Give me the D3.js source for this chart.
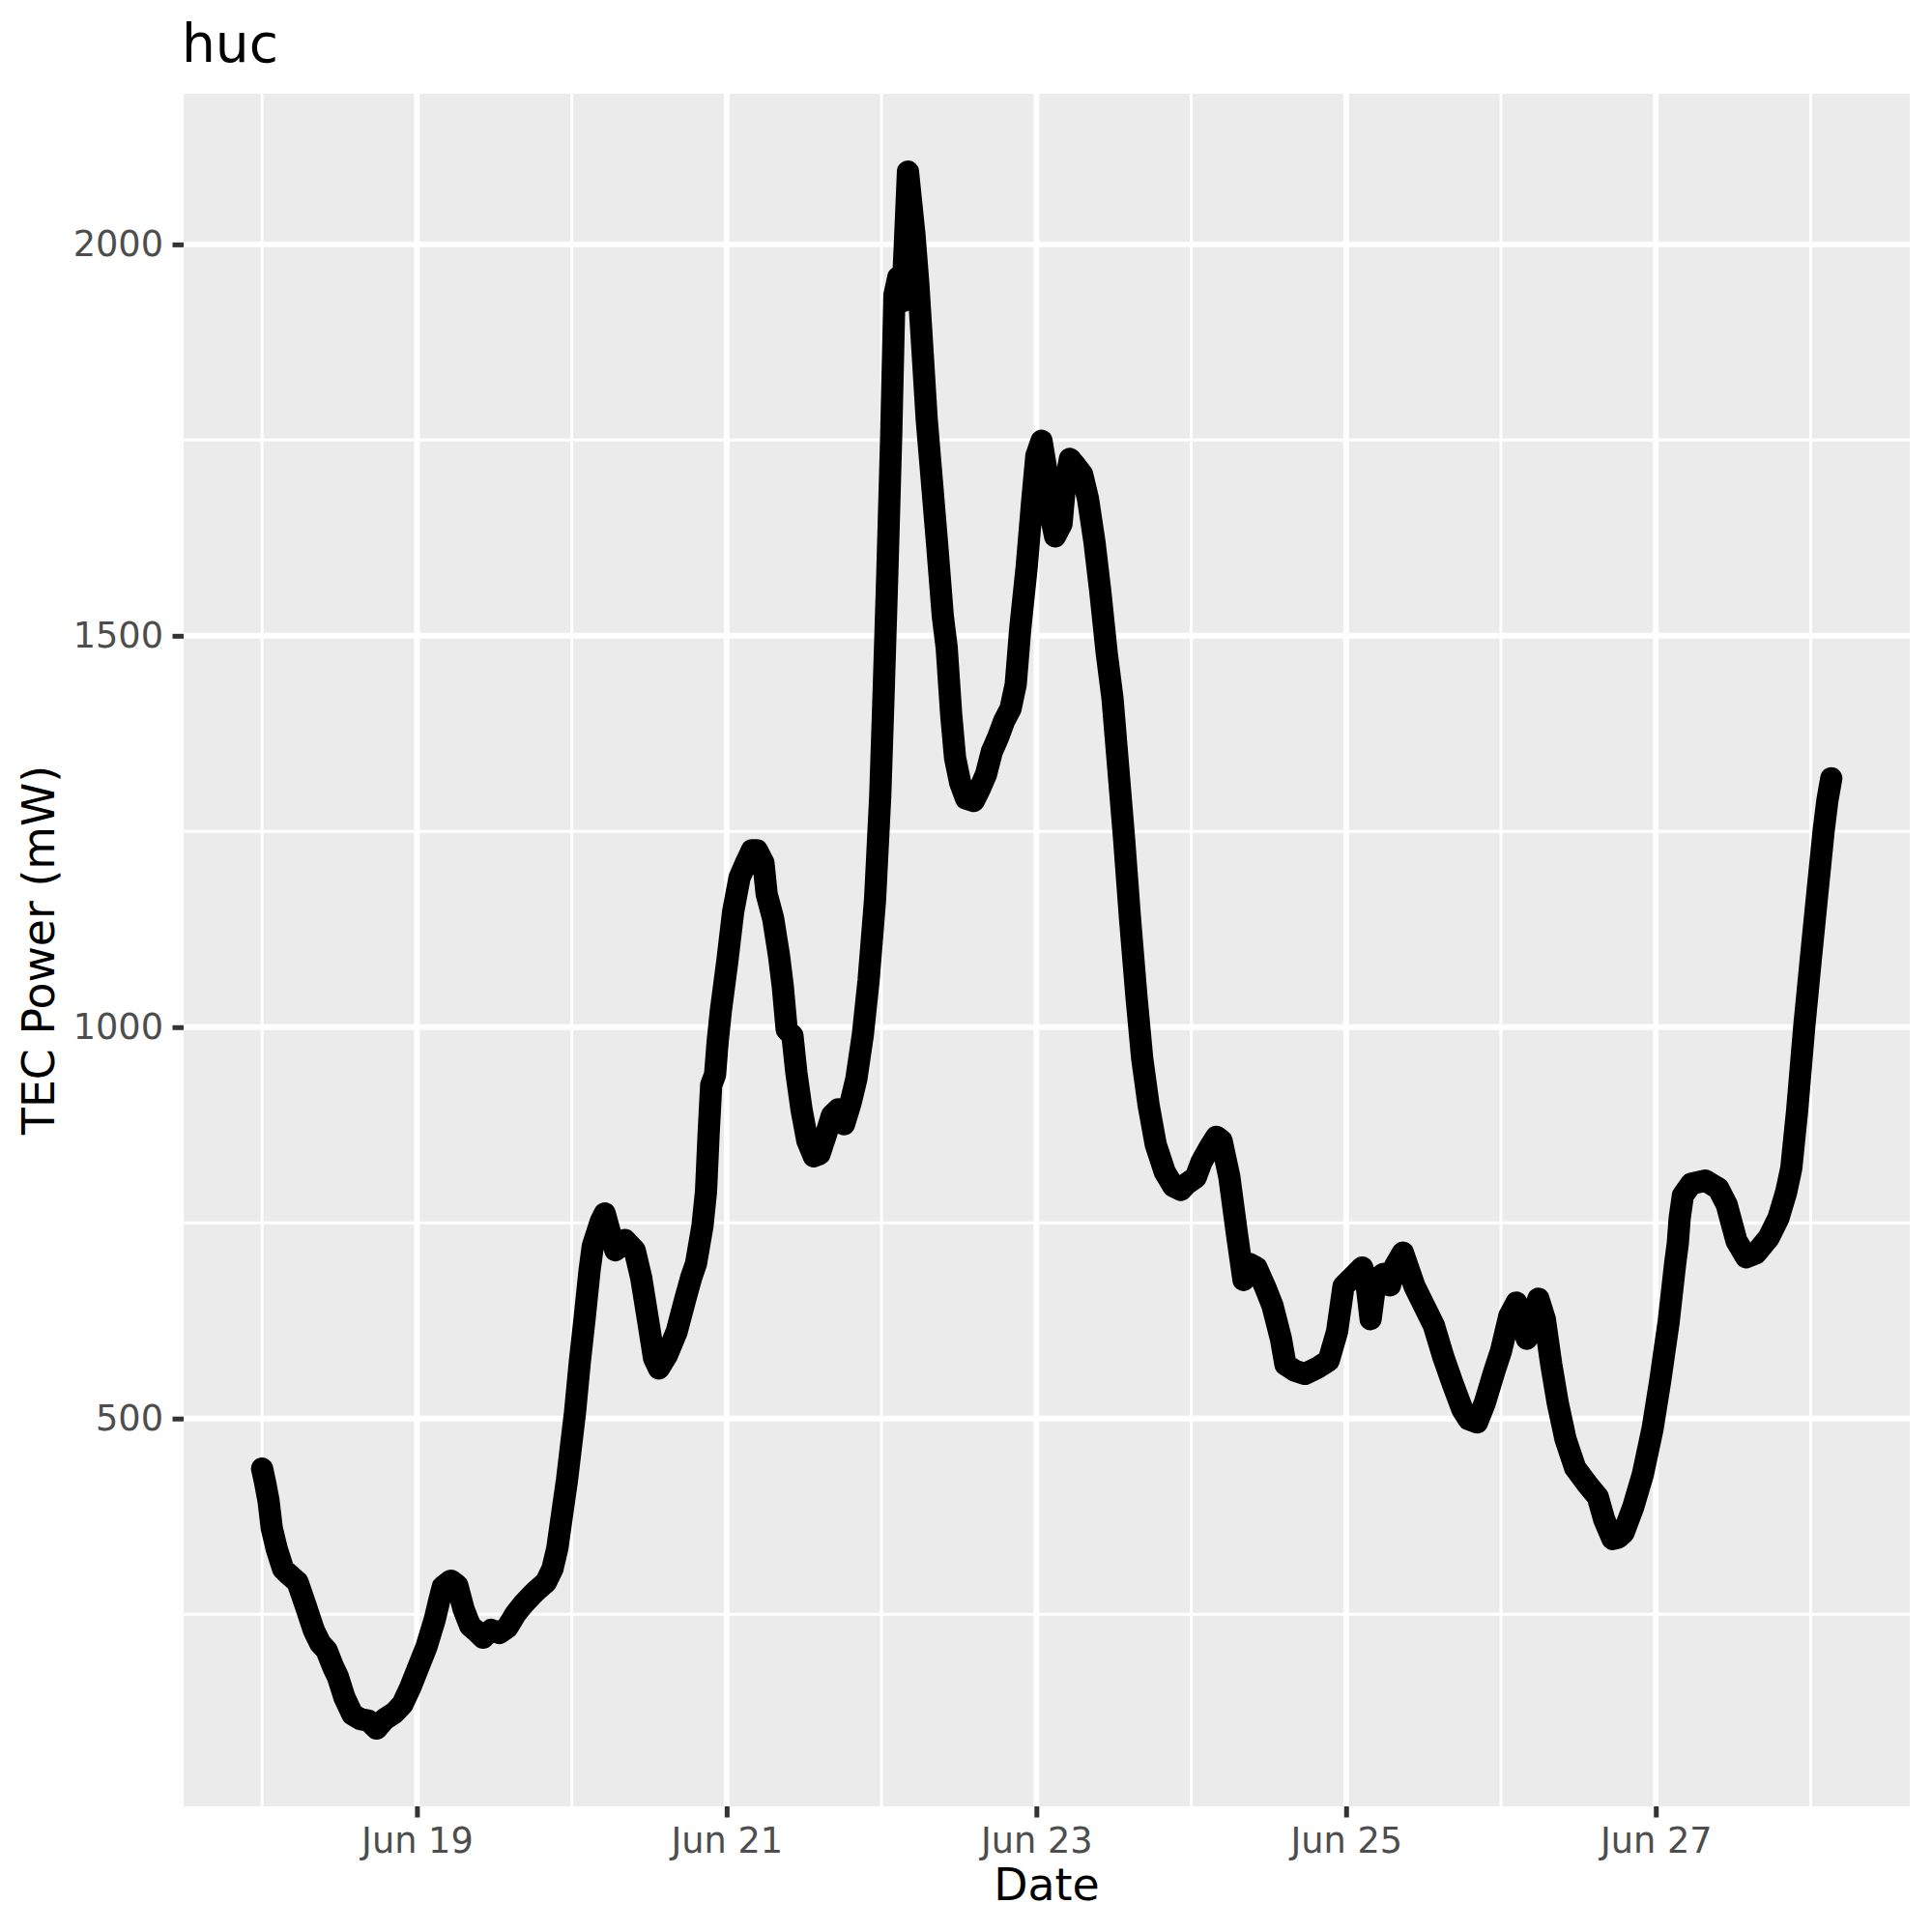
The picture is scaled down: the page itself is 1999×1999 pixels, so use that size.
<!DOCTYPE html>
<html><head><meta charset="utf-8">
<script src="https://cdn.jsdelivr.net/npm/d3@7"></script>
<style>body{margin:0;background:#fff} svg{display:block}</style>
</head><body>
<script>
// ---- data ----
const startTime = Date.UTC(2021, 5, 18, 0, 0);
const hours = [0,0.4,1,1.5,2.25,3.25,4.25,5.5,6.75,8,9,10,11,11.75,12.75,14,15.25,16.5,17.75,19,20.5,21.75,23,24.25,25.5,26.75,27.5,28,29.25,30.25,31.25,32.25,33.25,34.25,35.5,36.75,38,39.25,40.5,41.75,42.75,44,45,45.75,46.5,47.25,47.75,48.5,49.25,50,50.75,51.25,51.75,52.5,53.1,54,54.75,56.25,57.75,58.75,59.75,60.75,61.5,62.75,64.25,65.5,66.5,67.25,68.25,
68.8,69.2,69.6,70.2,70.6,71.1,72.1,73.0,74.0,75.0,75.9,76.7,77.7,78.2,79.2,80.1,80.7,81.3,82.2,82.8,83.6,84.5,85.5,86.4,87.4,88.3,89.3,90.2,91.2,92.1,93.1,94.0,95.0,95.8,96.3,96.9,97.5,98.0,98.6,99.2,99.6,100.1,100.6,101.1,101.7,102.3,103.0,103.8,104.6,105.5,106.1,106.8,107.4,108.2,109.1,110.3,111.2,112.2,113.1,114.1,115.0,116.0,116.8,117.5,118.5,119.3,120.0,120.8,121.5,122.1,122.9,123.9,124.4,125.2,126.1,127.1,128.0,129.0,129.9,130.9,131.8,132.6,133.6,134.5,135.5,136.4,137.4,138.5,139.9,141.2,142.4,143.3,144.7,145.6,146.9,147.9,148.7,
149.9,151.1,152.1,152.9,154.1,155.4,156.6,157.9,158.6,160.1,161.6,163.6,165.3,166.6,167.6,168.8,170.5,171.1,171.8,172.6,173.8,174.8,175.6,176.8,178.6,180.1,181.6,183.1,184.5,186,187,188.3,189.5,191,192,193.3,194.4,196,197.8,198.8,199.8,200.8,202,203.5,205.3,207,208,209.3,
210.2,211,212.5,214,215.5,216.7,218,219,219.4,219.7,220.2,221.5,223.7,225.7,227,228.5,230,231.5,233.5,235,236.2,237.0,237.9,239.0,240,241,242,242.6,243.2];
const power = [436,421,395,360,334,308,300,291,261,230,213,204,183,170,144,122,116,114,104,116,124,135,157,183,209,243,269,285,293,287,256,235,228,220,230,226,233,250,263,274,282,291,308,334,378,421,456,508,573,629,689,720,733,752,762,735,715,728,715,680,629,577,564,581,611,650,680,698,746,
790,863,926,939,981,1021,1084,1147,1191,1210,1226,1226,1210,1170,1139,1092,1052,997,989,942,895,855,835,838,863,887,895,876,903,934,990,1060,1163,1295,1420,1580,1755,1935,1958,1927,1997,2093,2053,2013,1950,1871,1777,1698,1619,1525,1485,1399,1344,1312,1292,1289,1304,1323,1352,1371,1391,1407,1438,1509,1588,1667,1730,1749,1714,1659,1627,1643,1690,1726,1717,1706,1675,1620,1557,1478,1420,1340,1240,1140,1040,960,900,850,815,797,792,800,808,828,847,860,855,
809,735,677,698,693,669,644,602,569,561,557,565,574,611,669,679,693,677,627,677,685,670,695,712,669,644,619,578,545,512,499,495,520,561,586,631,648,602,653,627,569,520,474,437,417,400,371,346,
348,354,387,429,487,549,624,698,723,756,785,800,804,794,773,727,706,711,731,756,789,820,893,1000,1085,1168,1250,1290,1318];
const xMajorTicks = ["2021-06-19","2021-06-21","2021-06-23","2021-06-25","2021-06-27"];
const xMinorTicks = ["2021-06-18","2021-06-20","2021-06-22","2021-06-24","2021-06-26","2021-06-28"];
const yMajorTicks = [500, 1000, 1500, 2000];
const yMinorTicks = [250, 750, 1250, 1750];
const titleText = "huc", xTitle = "Date", yTitle = "TEC Power (mW)";

// ---- layout ----
const W = 1999, H = 1999;
const P = {left: 190, top: 97, right: 1976, bottom: 1869};
const FONT = "'DejaVu Sans', Verdana, sans-serif";

const data = hours.map((h, i) => ({t: new Date(startTime + h * 3600e3), v: power[i]}));

function expand(ext) { const r = ext[1] - ext[0]; return [ext[0] - 0.05 * r, ext[1] + 0.05 * r]; }
const xExt = d3.extent(data, d => d.t).map(d => +d);
const x = d3.scaleUtc().domain(expand(xExt)).range([P.left, P.right]);
const y = d3.scaleLinear().domain(expand(d3.extent(data, d => d.v))).range([P.bottom, P.top]);

const parse = d3.utcParse("%Y-%m-%d");
const xMaj = xMajorTicks.map(parse), xMin = xMinorTicks.map(parse);

const svg = d3.select("body").append("svg").attr("width", W).attr("height", H);
svg.append("rect").attr("width", W).attr("height", H).attr("fill", "#fff");

const defs = svg.append("defs");
defs.append("clipPath").attr("id", "pc").append("rect")
  .attr("x", P.left).attr("y", P.top).attr("width", P.right - P.left).attr("height", P.bottom - P.top);

svg.append("rect").attr("x", P.left).attr("y", P.top)
  .attr("width", P.right - P.left).attr("height", P.bottom - P.top).attr("fill", "#EBEBEB");

const grid = svg.append("g").attr("clip-path", "url(#pc)");
grid.selectAll(".ymin").data(yMinorTicks).join("line")
  .attr("x1", P.left).attr("x2", P.right).attr("y1", d => y(d)).attr("y2", d => y(d))
  .attr("stroke", "#fff").attr("stroke-width", 2.96);
grid.selectAll(".xmin").data(xMin).join("line")
  .attr("y1", P.top).attr("y2", P.bottom).attr("x1", d => x(d)).attr("x2", d => x(d))
  .attr("stroke", "#fff").attr("stroke-width", 2.96);
grid.selectAll(".ymaj").data(yMajorTicks).join("line")
  .attr("x1", P.left).attr("x2", P.right).attr("y1", d => y(d)).attr("y2", d => y(d))
  .attr("stroke", "#fff").attr("stroke-width", 5.9);
grid.selectAll(".xmaj").data(xMaj).join("line")
  .attr("y1", P.top).attr("y2", P.bottom).attr("x1", d => x(d)).attr("x2", d => x(d))
  .attr("stroke", "#fff").attr("stroke-width", 5.9);

svg.append("path").datum(data)
  .attr("d", d3.line().x(d => x(d.t)).y(d => y(d.v)))
  .attr("fill", "none").attr("stroke", "#000").attr("stroke-width", 23)
  .attr("stroke-linejoin", "round").attr("stroke-linecap", "round");

// axes
const xAxis = svg.append("g").attr("transform", `translate(0,${P.bottom})`)
  .call(d3.axisBottom(x).tickValues(xMaj).tickFormat(d3.utcFormat("%b %d")).tickSize(11.5).tickPadding(10.5));
const yAxis = svg.append("g").attr("transform", `translate(${P.left},0)`)
  .call(d3.axisLeft(y).tickValues(yMajorTicks).tickFormat(d3.format("d")).tickSize(11.5).tickPadding(9.5));
[xAxis, yAxis].forEach(g => {
  g.select(".domain").remove();
  g.selectAll(".tick line").attr("stroke", "#333333").attr("stroke-width", 5);
  g.selectAll(".tick text").attr("fill", "#4D4D4D").style("font-family", FONT).style("font-size", "36.7px");
});

// titles
svg.append("text").attr("x", P.left - 2).attr("y", 64).text(titleText)
  .style("font-family", FONT).style("font-size", "55px").attr("fill", "#000");
svg.append("text").attr("x", (P.left + P.right) / 2).attr("y", 1966).attr("text-anchor", "middle").text(xTitle)
  .style("font-family", FONT).style("font-size", "45.8px").attr("fill", "#000");
svg.append("text").attr("transform", `translate(56,${(P.top + P.bottom) / 2}) rotate(-90)`)
  .attr("text-anchor", "middle").text(yTitle)
  .style("font-family", FONT).style("font-size", "45.8px").attr("fill", "#000");
</script>
</body></html>
